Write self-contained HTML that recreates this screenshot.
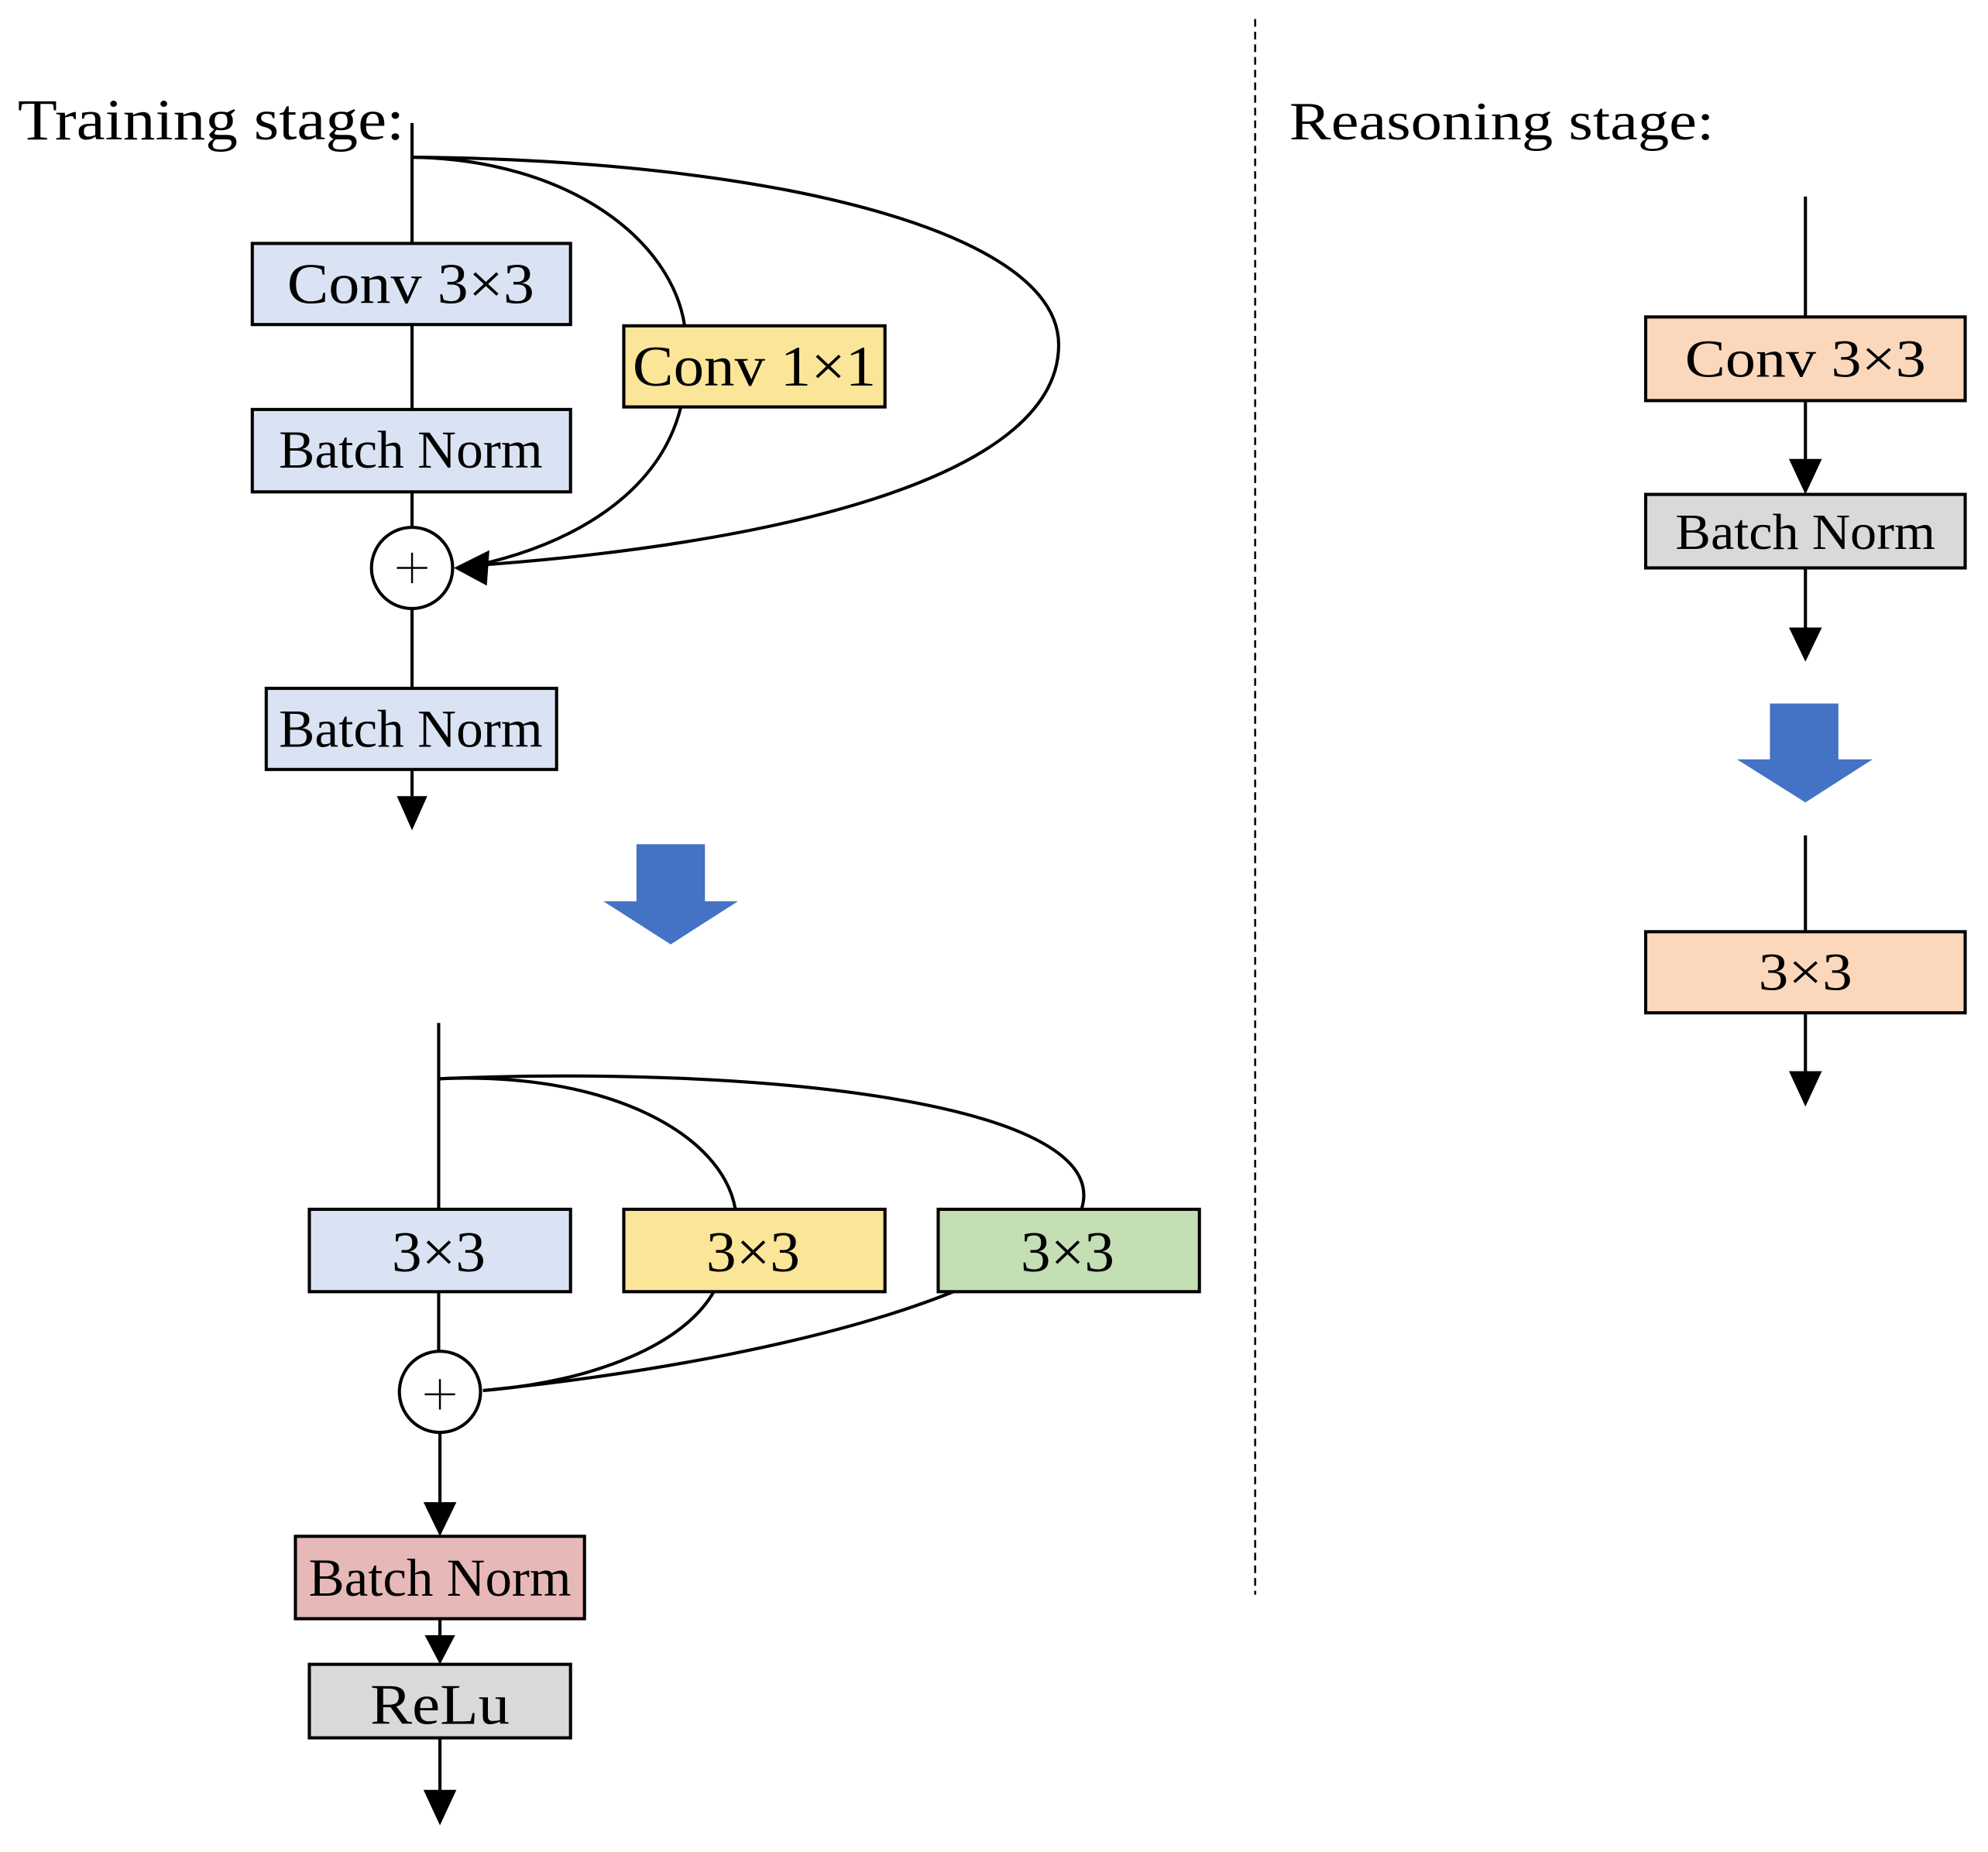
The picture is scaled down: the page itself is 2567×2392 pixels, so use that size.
<!DOCTYPE html>
<html><head><meta charset="utf-8"><style>html,body{margin:0;padding:0;background:#fff}svg{display:block}</style></head>
<body>
<svg width="2567" height="2392" viewBox="0 0 1568 1461" xmlns="http://www.w3.org/2000/svg" font-family="Liberation Serif, serif">
<g stroke="#000" stroke-width="2.5" fill="none">
<line x1="325" y1="97" x2="325" y2="416"/>
<line x1="325" y1="480" x2="325" y2="628"/>
<path d="M325,124 C450,126 530,190 540,257"/>
<path d="M537,321 C520,390 450,430 375,446"/>
<path d="M325,124 C600,126 835,180 835,272 C835,380 600,430 375,446"/>
<line x1="346" y1="807" x2="346" y2="1066"/>
<line x1="347" y1="1130" x2="347" y2="1186"/>
<path d="M346,851 C480,845 570,895 580,954"/>
<path d="M346,851 C600,840 880,870 853,954"/>
<path d="M381,1097 C470,1090 540,1060 563,1019"/>
<path d="M381,1097 C500,1085 650,1060 752,1019"/>
<line x1="347" y1="1277" x2="347" y2="1292"/>
<line x1="347" y1="1371" x2="347" y2="1414"/>
<line x1="1424" y1="155" x2="1424" y2="250"/>
<line x1="1424" y1="316" x2="1424" y2="364"/>
<line x1="1424" y1="448" x2="1424" y2="497"/>
<line x1="1424" y1="659" x2="1424" y2="735"/>
<line x1="1424" y1="799" x2="1424" y2="847"/>
<line x1="990" y1="15" x2="990" y2="1258" stroke-width="1.6" stroke-dasharray="6,4"/>
</g>
<g fill="#000">
<path d="M358,448 L386,434 L384,462z"/>
<path d="M313,628 L337,628 L325,655z"/>
<path d="M334,1185 L360,1185 L347,1212z"/>
<path d="M335,1290 L359,1290 L347,1313z"/>
<path d="M334,1412 L360,1412 L347,1440z"/>
<path d="M1411,362 L1437,362 L1424,390z"/>
<path d="M1411,495 L1437,495 L1424,522z"/>
<path d="M1411,845 L1437,845 L1424,873z"/>
</g>
<g fill="#4472c4">
<path d="M502,666H556V711H582L529,745L476,711H502z"/>
<path d="M1396,555H1450V599H1477L1424,633L1370,599H1396z"/>
</g>
<g stroke="#000" stroke-width="2.5">
<rect x="199" y="192" width="251" height="64" fill="#dae3f3"/>
<rect x="199" y="323" width="251" height="65" fill="#dae3f3"/>
<rect x="210" y="543" width="229" height="64" fill="#dae3f3"/>
<rect x="492" y="257" width="206" height="64" fill="#fbe598"/>
<ellipse cx="325" cy="448" rx="32" ry="32" fill="#fff"/>
<rect x="244" y="954" width="206" height="65" fill="#dae3f3"/>
<rect x="492" y="954" width="206" height="65" fill="#fbe598"/>
<rect x="740" y="954" width="206" height="65" fill="#c5dfb4"/>
<ellipse cx="347" cy="1098" rx="32" ry="32" fill="#fff"/>
<rect x="233" y="1212" width="228" height="65" fill="#e6b9b8"/>
<rect x="244" y="1313" width="206" height="58" fill="#d9d9d9"/>
<rect x="1298" y="250" width="252" height="66" fill="#fbd7bb"/>
<rect x="1298" y="390" width="252" height="58" fill="#d9d9d9"/>
<rect x="1298" y="735" width="252" height="64" fill="#fbd7bb"/>
</g>
<g stroke="#000" stroke-width="1.5">
<line x1="313" y1="448" x2="337" y2="448"/><line x1="325" y1="436" x2="325" y2="460"/>
<line x1="335" y1="1100" x2="359" y2="1100"/><line x1="347" y1="1088" x2="347" y2="1112"/>
</g>
<g font-size="45" text-anchor="middle" fill="#000">
<text x="324" y="239" textLength="195" lengthAdjust="spacingAndGlyphs">Conv 3×3</text>
<text x="324" y="369" font-size="42" textLength="208" lengthAdjust="spacingAndGlyphs">Batch Norm</text>
<text x="324" y="589" font-size="42" textLength="208" lengthAdjust="spacingAndGlyphs">Batch Norm</text>
<text x="595" y="304" textLength="192" lengthAdjust="spacingAndGlyphs">Conv 1×1</text>
<text x="346" y="1003" textLength="74" lengthAdjust="spacingAndGlyphs">3×3</text>
<text x="594" y="1003" textLength="74" lengthAdjust="spacingAndGlyphs">3×3</text>
<text x="842" y="1003" textLength="74" lengthAdjust="spacingAndGlyphs">3×3</text>
<text x="347" y="1259" font-size="42" textLength="207" lengthAdjust="spacingAndGlyphs">Batch Norm</text>
<text x="347" y="1360" textLength="110" lengthAdjust="spacingAndGlyphs">ReLu</text>
<text x="1424" y="297" font-size="42" textLength="190" lengthAdjust="spacingAndGlyphs">Conv 3×3</text>
<text x="1424" y="433" font-size="40" textLength="205" lengthAdjust="spacingAndGlyphs">Batch Norm</text>
<text x="1424" y="781" font-size="42" textLength="74" lengthAdjust="spacingAndGlyphs">3×3</text>
</g>
<g font-size="46" fill="#000">
<text x="14" y="110" textLength="305" lengthAdjust="spacingAndGlyphs">Training stage:</text>
<text x="1017" y="110" font-size="43" textLength="335" lengthAdjust="spacingAndGlyphs">Reasoning stage:</text>
</g>
</svg>
</body></html>
